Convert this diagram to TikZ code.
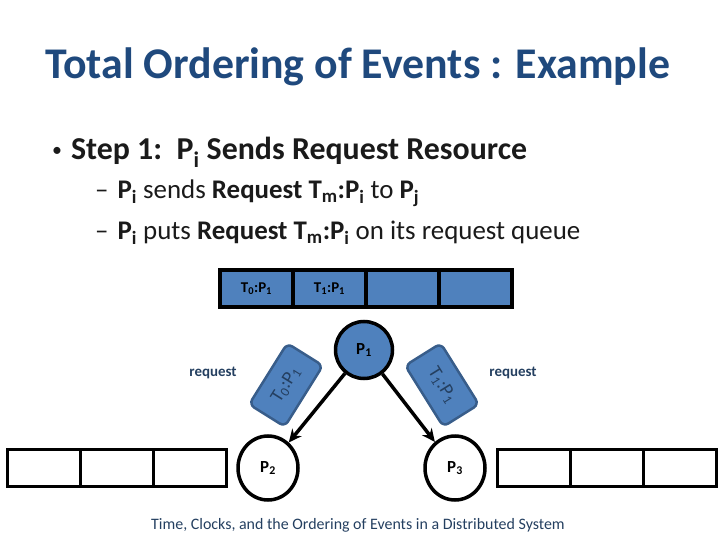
\documentclass[tikz,border=0pt]{standalone}
\usepackage{fontspec}
\setmainfont{Carlito}
\usepackage{xcolor}
\usepackage{tikz}
\usetikzlibrary{shapes.geometric, arrows, arrows.meta, positioning}
\definecolor{titleblue}{HTML}{1F497D}
\definecolor{boxblue}{HTML}{4F81BD}
\definecolor{boxedge}{HTML}{385D8A}
\definecolor{bodytext}{HTML}{1A1A1A}
\definecolor{notetext}{HTML}{243F60}
\tikzstyle{cell} = [rectangle,
minimum width=73bp,
minimum height=37bp,
inner sep=0pt, outer sep=0pt,
line width=3.5bp,
draw=black, fill=white]
\tikzstyle{bluecell} = [cell, fill=boxblue,
font=\fontsize{15}{17}\selectfont\bfseries]
\tikzstyle{proc} = [circle,
minimum size=57bp, inner sep=0pt,
line width=3.5bp, draw=black,
font=\fontsize{17}{19}\selectfont\bfseries]
\tikzstyle{msg} = [rectangle, rounded corners=6bp,
minimum width=72bp, minimum height=42bp,
line width=2.5bp, draw=boxedge, fill=boxblue,
text=notetext, font=\fontsize{19}{21}\selectfont]
\tikzstyle{arrow} = [line width=3.5bp,-{Stealth[length=13bp,width=12bp]}]
\tikzstyle{note} = [text=notetext, font=\fontsize{15}{17}\selectfont\bfseries]

\begin{document}
\begin{tikzpicture}[x=1bp, y=-1bp, node distance=0pt]
\useasboundingbox (0,0) rectangle (720,540);

% slide text
\node (title) [anchor=base west, inner sep=0pt, text=titleblue,
  font=\fontsize{44}{52}\selectfont\bfseries] at (45,79)
  {Total Ordering of Events : Example};
\node (step) [anchor=base west, inner sep=0pt, text=bodytext,
  font=\fontsize{32}{38}\selectfont] at (52,160)
  {\raisebox{3bp}{\fontsize{20}{22}\selectfont\textbullet}\hspace{9bp}\textbf{Step 1:\ \ P\textsubscript{i} Sends Request Resource}};
\node (sub1) [anchor=base west, inner sep=0pt, text=bodytext,
  font=\fontsize{27}{32}\selectfont] at (95,199)
  {--\hspace{3bp} \textbf{P\textsubscript{i}} sends \textbf{Request T\textsubscript{m}:P\textsubscript{i}} to \textbf{P\textsubscript{j}}};
\node (sub2) [anchor=base west, inner sep=0pt, text=bodytext,
  font=\fontsize{27}{32}\selectfont] at (95,240)
  {--\hspace{3bp} \textbf{P\textsubscript{i}} puts \textbf{Request T\textsubscript{m}:P\textsubscript{i}} on its request queue};

% request queue of P1
\node (q1) [bluecell] at (256.5,288.5) {T\textsubscript{0}:P\textsubscript{1}};
\node (q2) [bluecell, right=of q1] {T\textsubscript{1}:P\textsubscript{1}};
\node (q3) [bluecell, right=of q2] {};
\node (q4) [bluecell, right=of q3] {};

% processes
\node (p1) [proc, fill=boxblue] at (364,350) {P\textsubscript{1}};
\node (p2) [proc, ellipse, minimum width=60bp, minimum height=64bp] at (268,468) {P\textsubscript{2}};
\node (p3) [proc, ellipse, minimum width=60bp, minimum height=64bp] at (455,468) {P\textsubscript{3}};

% request queues of P2 and P3
\node (l1) [cell] at (44,468) {};
\node (l2) [cell, right=of l1] {};
\node (l3) [cell, right=of l2] {};
\node (r1) [cell] at (534,468) {};
\node (r2) [cell, right=of r1] {};
\node (r3) [cell, right=of r2] {};

% messages
\draw [arrow] (p1) -- (p2);
\draw [arrow] (p1) -- (p3);
\node (m0) [msg, rotate=58] at (286,385) {T\textsubscript{0}:P\textsubscript{1}};
\node (m1) [msg, rotate=-58] at (442,385) {T\textsubscript{1}:P\textsubscript{1}};
\node (req0) [note] at (213,373) {request};
\node (req1) [note] at (513,373) {request};

\node (cite) [text=notetext, font=\fontsize{16}{18}\selectfont] at (358,525)
  {Time, Clocks, and the Ordering of Events in a Distributed System};
\end{tikzpicture}
\end{document}
